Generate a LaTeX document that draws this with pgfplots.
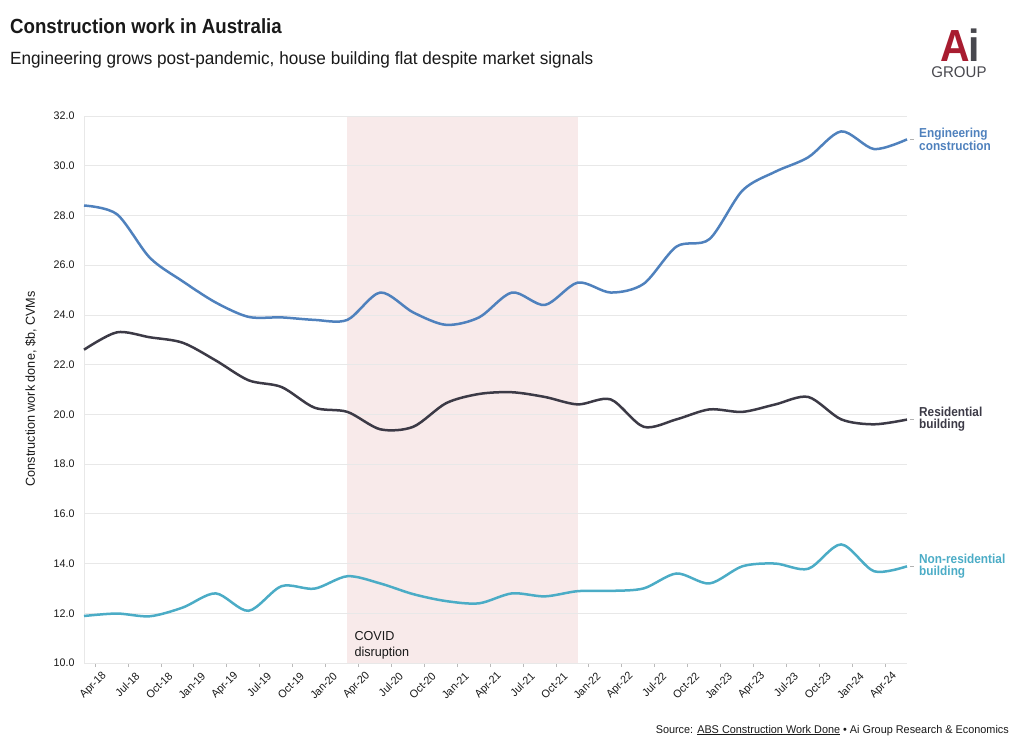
\documentclass[border=0pt]{standalone}
\usepackage{fontspec}
\setmainfont{Liberation Sans}[FakeStretch=0.97]
\newfontfamily\bcf{Liberation Sans}[FakeStretch=0.91]
\usepackage{pgfplots}
\pgfplotsset{compat=1.18}
\definecolor{eng}{RGB}{79,129,189}
\definecolor{res}{RGB}{60,58,70}
\definecolor{nonres}{RGB}{75,172,198}
\definecolor{covid}{RGB}{248,234,234}
\definecolor{gridc}{RGB}{232,232,232}
\definecolor{txt}{RGB}{25,25,25}
\definecolor{aired}{RGB}{168,28,48}
\definecolor{aigrey}{RGB}{72,72,78}
\begin{document}
\begin{tikzpicture}
\path (0pt,0pt) rectangle (1020pt,748pt);
\node[anchor=base west, inner sep=0, text=txt, font=\fontsize{20.5}{20.5}\selectfont\bcf\bfseries] at (10pt,714pt) {Construction work in Australia};
\node[anchor=base west, inner sep=0, text=txt, font=\fontsize{17.7}{17.7}\selectfont] at (10pt,683pt) {Engineering grows post-pandemic, house building flat despite market signals};
% logo
\node[anchor=base, inner sep=0, font=\fontsize{45}{45}\selectfont\bcf\bfseries] at (960pt,686pt) {\textcolor{aired}{A}\kern-1pt\textcolor{aigrey}{i}};
\node[anchor=base, inner sep=0, text=aigrey, font=\fontsize{15.5}{15.5}\selectfont] at (959pt,670pt) {GROUP};
\node[anchor=base east, inner sep=0, text=txt, font=\fontsize{11.2}{11.2}\selectfont] at (1009pt,15pt) {Source: \underline{ABS Construction Work Done} \textbullet{} Ai Group Research \& Economics};
\node[rotate=90, inner sep=0, text=txt, font=\fontsize{13}{13}\selectfont] at (31pt,359pt) {Construction work done, \$b, CVMs};
\begin{axis}[
  at={(84pt,85pt)}, anchor=south west,
  scale only axis, width=823pt, height=547pt,
  set layers,
  xmin=0, xmax=75, ymin=10, ymax=32,
  axis x line=bottom, axis y line=left,
  axis line style={gridc, line width=0.8pt, -},
  ytick={10,12,...,32}, ymajorgrids,
  grid style={gridc, line width=0.8pt},
  ytick style={draw=none},
  xtick={1,4,...,73},
  xticklabels={Apr-18,Jul-18,Oct-18,Jan-19,Apr-19,Jul-19,Oct-19,Jan-20,Apr-20,Jul-20,Oct-20,Jan-21,Apr-21,Jul-21,Oct-21,Jan-22,Apr-22,Jul-22,Oct-22,Jan-23,Apr-23,Jul-23,Oct-23,Jan-24,Apr-24},
  xtick style={gridc!80!black, line width=0.6pt},
  tick align=outside, major tick length=4pt,
  xticklabel style={rotate=45, anchor=east, text=txt, font=\fontsize{11}{11}\selectfont, inner sep=1pt, xshift=3pt, yshift=-12pt},
  yticklabel style={text=txt, font=\fontsize{11}{11}\selectfont, xshift=-2pt},
  y tick label style={/pgf/number format/.cd, fixed, fixed zerofill, precision=1},
  /pgf/number format/assume math mode=true,
  clip=false,
]
\begin{pgfonlayer}{axis background}
\fill[covid] (axis cs:24,10) rectangle (axis cs:45,32);
\end{pgfonlayer}
\addplot[eng, line width=2.5pt, smooth, tension=0.5] coordinates {
(0,28.4) (3,28.05) (6,26.3) (9,25.35) (12,24.5) (15,23.92) (18,23.9) (21,23.8) (24,23.8) (27,24.9) (30,24.1) (33,23.6) (36,23.9) (39,24.9) (42,24.4) (45,25.3) (48,24.9) (51,25.25) (54,26.75) (57,27.05) (60,29.0) (63,29.76) (66,30.34) (69,31.38) (72,30.67) (75,31.06)};
\addplot[res, line width=2.5pt, smooth, tension=0.5] coordinates {
(0,22.6) (3,23.3) (6,23.1) (9,22.88) (12,22.17) (15,21.37) (18,21.1) (21,20.27) (24,20.1) (27,19.4) (30,19.5) (33,20.45) (36,20.82) (39,20.89) (42,20.7) (45,20.4) (48,20.6) (51,19.5) (54,19.8) (57,20.2) (60,20.1) (63,20.4) (66,20.7) (69,19.8) (72,19.6) (75,19.79)};
\addplot[nonres, line width=2.5pt, smooth, tension=0.5] coordinates {
(0,11.89) (3,11.99) (6,11.88) (9,12.23) (12,12.8) (15,12.1) (18,13.09) (21,12.99) (24,13.49) (27,13.2) (30,12.77) (33,12.49) (36,12.4) (39,12.8) (42,12.68) (45,12.89) (48,12.9) (51,13.0) (54,13.6) (57,13.2) (60,13.89) (63,14.0) (66,13.79) (69,14.77) (72,13.69) (75,13.89)};
\node[anchor=south west, align=left, text=txt, font=\fontsize{13}{16}\selectfont, inner sep=0] at ([xshift=7pt,yshift=4pt]axis cs:24,10) {COVID\\disruption};
\draw[gray!60, line width=0.6pt] ([xshift=3pt]axis cs:75,31.06) -- ++(4pt,0pt);
\draw[gray!60, line width=0.6pt] ([xshift=3pt]axis cs:75,19.79) -- ++(4pt,0pt);
\draw[gray!60, line width=0.6pt] ([xshift=3pt]axis cs:75,13.89) -- ++(4pt,0pt);
\node[anchor=west, align=left, text=eng, font=\fontsize{13}{12}\selectfont\bcf\bfseries, inner sep=0] at ([xshift=12pt]axis cs:75,31.06) {Engineering\\construction};
\node[anchor=west, align=left, text=res, font=\fontsize{13}{12}\selectfont\bcf\bfseries, inner sep=0] at ([xshift=12pt]axis cs:75,19.79) {Residential\\building};
\node[anchor=west, align=left, text=nonres, font=\fontsize{13}{12}\selectfont\bcf\bfseries, inner sep=0] at ([xshift=12pt]axis cs:75,13.89) {Non-residential\\building};
\end{axis}
\end{tikzpicture}
\end{document}
